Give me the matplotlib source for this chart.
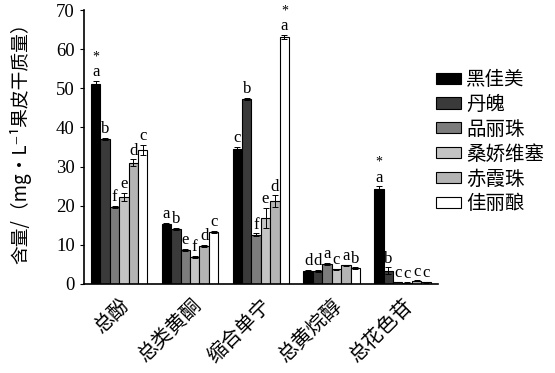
import numpy as np
import matplotlib
matplotlib.use('Agg')
import matplotlib.pyplot as plt

plt.rcParams['font.family'] = ['Noto Sans CJK SC', 'DejaVu Sans']

# ── data ──
categories = ["总酚", "总类黄酮", "缩合单宁", "总黄烷醇", "总花色苷"]
varieties = ["黑佳美", "丹魄", "品丽珠", "桑娇维塞", "赤霞珠", "佳丽酿"]
# rows = categories, columns = varieties
values = [
    [51.1, 37.0, 19.7, 22.2, 31.0, 34.3],
    [15.2, 14.1, 8.7, 6.8, 9.7, 13.3],
    [34.5, 47.3, 12.6, 16.9, 21.1, 63.1],
    [3.4, 3.3, 5.0, 3.7, 4.7, 4.0],
    [24.3, 3.4, 0.5, 0.3, 0.8, 0.4],
]
errors = [
    [0.8, 0.3, 0.3, 1.0, 0.8, 1.3],
    [0.3, 0.3, 0.3, 0.3, 0.2, 0.3],
    [0.6, 0.3, 0.3, 2.5, 1.5, 0.5],
    [0.2, 0.2, 0.3, 0.2, 0.2, 0.2],
    [0.6, 0.8, 0.1, 0.1, 0.1, 0.1],
]
letters = [
    ["a", "b", "f", "e", "d", "c"],
    ["a", "b", "e", "f", "d", "c"],
    ["c", "b", "f", "e", "d", "a"],
    ["d", "d", "a", "c", "a", "b"],
    ["a", "b", "c", "c", "c", "c"],
]
stars = [[True, False, False, False, False, False],
         [False] * 6,
         [False, False, False, False, False, True],
         [False] * 6,
         [True, False, False, False, False, False]]
colors = ["#000000", "#3a3a3a", "#7c7c7c", "#c4c4c4", "#b4b4b4", "#ffffff"]

SERIF = "Liberation Serif"

fig = plt.figure(figsize=(5.55, 3.73), dpi=100)
ax = fig.add_axes([0.151, 0.239, 0.638, 0.734])

vals = np.array(values)
errs = np.array(errors)
x = np.arange(len(categories))
w = 0.133
for j, name in enumerate(varieties):
    xpos = x + (j - 2.5) * w
    ax.bar(xpos, vals[:, j], width=w, color=colors[j], edgecolor="black",
           linewidth=0.8, label=name, zorder=2)
    ax.errorbar(xpos, vals[:, j], yerr=errs[:, j], fmt="none", ecolor="black",
                elinewidth=0.7, capsize=2.5, capthick=0.7, zorder=3)
    for i in range(len(categories)):
        top = vals[i, j] + errs[i, j]
        ax.text(xpos[i], top + 0.2, letters[i][j], ha="center", va="bottom",
                fontsize=12, family=SERIF)
        if stars[i][j]:
            ax.text(xpos[i], top + 4.5, "*", ha="center", va="bottom",
                    fontsize=10, family=SERIF)

ax.set_xlim(-0.5, 4.5)
ax.set_ylim(0, 70)
ax.set_yticks(np.arange(0, 71, 10))
ax.set_yticklabels([str(v) for v in range(0, 71, 10)], family=SERIF, fontsize=13.5)
ax.set_xticks(x)
ax.set_xticklabels(categories, rotation=45, ha="right", va="top",
                   rotation_mode="anchor", fontsize=14.5)
ax.tick_params(axis="x", length=0, pad=8)
ax.tick_params(axis="y", direction="out", length=3, width=0.8)
for s in ["top", "right"]:
    ax.spines[s].set_visible(False)
ax.spines["left"].set_linewidth(1.2)
ax.spines["bottom"].set_linewidth(1.2)

ax.set_ylabel("含量/（mg•L⁻¹果皮干质量）", fontsize=13.5)
ax.yaxis.set_label_coords(-0.148, 0.53)

leg = fig.legend(loc="upper left", bbox_to_anchor=(0.786, 0.815), frameon=False,
                 fontsize=14, handlelength=1.25, handleheight=0.5,
                 labelspacing=0.2, handletextpad=0.3, borderaxespad=0,
                 borderpad=0)

fig.savefig("out.png", dpi=100)
